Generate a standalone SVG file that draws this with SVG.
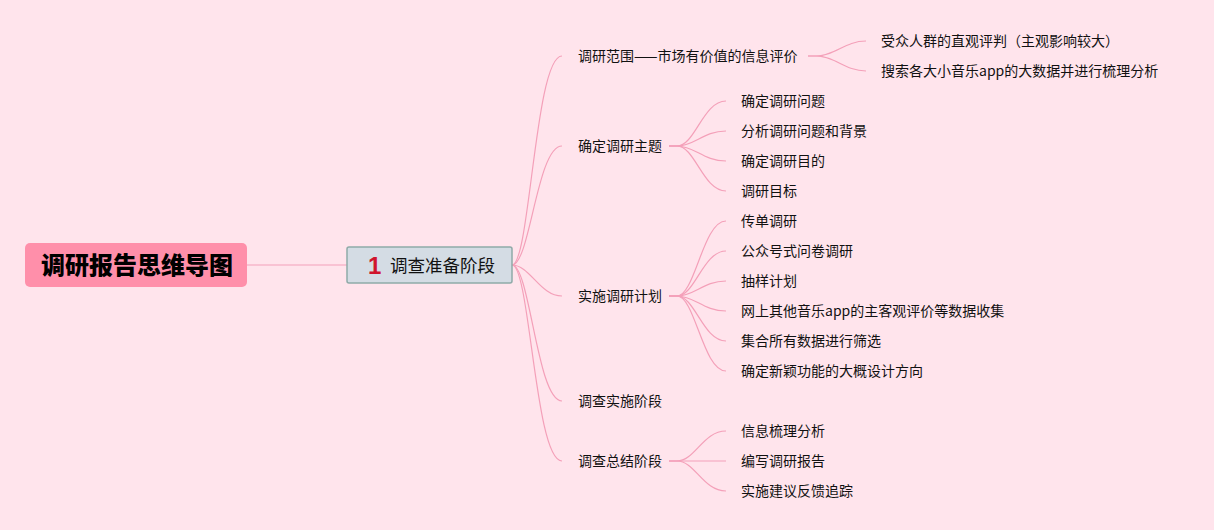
<svg xmlns="http://www.w3.org/2000/svg" width="1214" height="530" viewBox="0 0 1214 530">
<style>
.t{font-family:"Noto Sans CJK SC","Noto Sans",sans-serif;font-size:14px;fill:#111}
.c{fill:none;stroke:#F4A0B9;stroke-width:1.2}
</style>
<rect width="1214" height="530" fill="#FFE4EC"/>
<g id="connectors">
<path class="c" d="M247 265 L347 265"/>
<path class="c" d="M512 265 C530 265 535 56 562 56"/>
<path class="c" d="M512 265 C530 265 537 146 562 146"/>
<path class="c" d="M512 265 C530 265 540 296 562 296"/>
<path class="c" d="M512 265 C530 265 537 401 562 401"/>
<path class="c" d="M512 265 C530 265 535 461 562 461"/>
<path class="c" d="M808 56 L816 56 C835 56 845 41 866 41"/>
<path class="c" d="M808 56 L816 56 C835 56 845 71 866 71"/>
<path class="c" d="M669 146 L677 146 C695 146 703 101 726 101"/>
<path class="c" d="M669 146 L677 146 C695 146 703 131 726 131"/>
<path class="c" d="M669 146 L677 146 C695 146 703 161 726 161"/>
<path class="c" d="M669 146 L677 146 C695 146 703 191 726 191"/>
<path class="c" d="M669 296 L677 296 C695 296 703 221 726 221"/>
<path class="c" d="M669 296 L677 296 C695 296 703 251 726 251"/>
<path class="c" d="M669 296 L677 296 C695 296 703 281 726 281"/>
<path class="c" d="M669 296 L677 296 C695 296 703 311 726 311"/>
<path class="c" d="M669 296 L677 296 C695 296 703 341 726 341"/>
<path class="c" d="M669 296 L677 296 C695 296 703 371 726 371"/>
<path class="c" d="M669 461 L677 461 C695 461 703 431 726 431"/>
<path class="c" d="M669 461 L726 461"/>
<path class="c" d="M669 461 L677 461 C695 461 703 491 726 491"/>
</g>
<g id="root">
<rect x="25" y="243" width="222" height="44" rx="5" fill="#FF8FAA"/>
<text x="137" y="274" text-anchor="middle" style="font-family:'Noto Sans CJK SC',sans-serif;font-size:24px;font-weight:900;fill:#000">调研报告思维导图</text>
</g>
<g id="stage1">
<rect x="347" y="247" width="165" height="36" rx="2" fill="#D4DCE4" stroke="#8FAAA8" stroke-width="1.5"/>
<text x="368" y="274" style="font-family:'Liberation Sans',sans-serif;font-size:24px;font-weight:bold;fill:#D0142C">1</text>
<text x="390" y="272" style="font-family:'Noto Sans CJK SC',sans-serif;font-size:17.5px;fill:#111">调查准备阶段</text>
</g>
<g id="n-scope"><text class="t" x="578" y="61">调研范围——市场有价值的信息评价</text></g>
<g id="n-scope-1"><text class="t" x="881" y="46">受众人群的直观评判（主观影响较大）</text></g>
<g id="n-scope-2"><text class="t" x="881" y="76">搜索各大小音乐app的大数据并进行梳理分析</text></g>
<g id="n-topic"><text class="t" x="578" y="151">确定调研主题</text></g>
<g id="n-topic-1"><text class="t" x="741" y="106">确定调研问题</text></g>
<g id="n-topic-2"><text class="t" x="741" y="136">分析调研问题和背景</text></g>
<g id="n-topic-3"><text class="t" x="741" y="166">确定调研目的</text></g>
<g id="n-topic-4"><text class="t" x="741" y="196">调研目标</text></g>
<g id="n-plan"><text class="t" x="578" y="301">实施调研计划</text></g>
<g id="n-plan-1"><text class="t" x="741" y="226">传单调研</text></g>
<g id="n-plan-2"><text class="t" x="741" y="256">公众号式问卷调研</text></g>
<g id="n-plan-3"><text class="t" x="741" y="286">抽样计划</text></g>
<g id="n-plan-4"><text class="t" x="741" y="316">网上其他音乐app的主客观评价等数据收集</text></g>
<g id="n-plan-5"><text class="t" x="741" y="346">集合所有数据进行筛选</text></g>
<g id="n-plan-6"><text class="t" x="741" y="376">确定新颖功能的大概设计方向</text></g>
<g id="n-exec"><text class="t" x="578" y="406">调查实施阶段</text></g>
<g id="n-sum"><text class="t" x="578" y="466">调查总结阶段</text></g>
<g id="n-sum-1"><text class="t" x="741" y="436">信息梳理分析</text></g>
<g id="n-sum-2"><text class="t" x="741" y="466">编写调研报告</text></g>
<g id="n-sum-3"><text class="t" x="741" y="496">实施建议反馈追踪</text></g>
</svg>
